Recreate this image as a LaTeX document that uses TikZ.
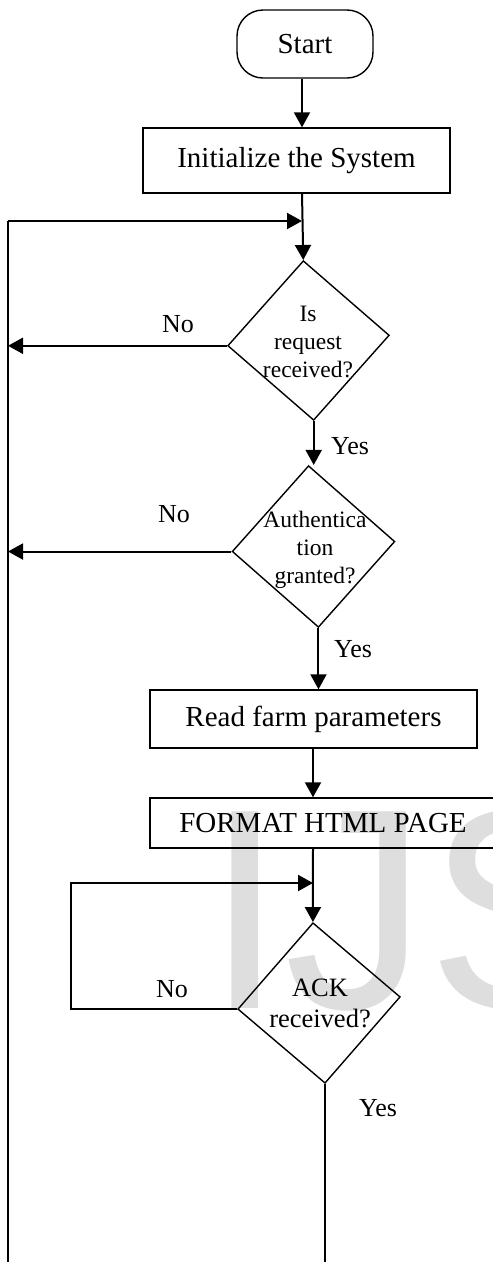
\documentclass[tikz,border=0pt]{standalone}
\usepackage{fontspec}
\setmainfont{Liberation Serif}
\newfontfamily\markfont{Liberation Sans}
\usetikzlibrary{arrows.meta,shapes.geometric}

\tikzset{
  arr/.style={line width=2pt,-{Triangle[length=15pt,width=16pt]}},
  plain/.style={line width=1.8pt},
  procbox/.style={draw,line width=1.4pt,rectangle,inner sep=0pt,
    font=\fontsize{29}{34}\selectfont},
  termbox/.style={draw,line width=1.4pt,rectangle,rounded corners=26pt,
    inner sep=0pt,minimum width=136pt,minimum height=68pt,
    font=\fontsize{29}{34}\selectfont},
  decision/.style={draw,line width=1.4pt,diamond,inner sep=0pt,
    shape aspect=1},
  dtext/.style={align=center,inner sep=0pt,
    font=\fontsize{23.5}{28}\selectfont},
  acktext/.style={align=center,inner sep=0pt,
    font=\fontsize{26.5}{31}\selectfont},
  lbl/.style={inner sep=0pt,anchor=base,font=\fontsize{26}{30}\selectfont},
}

\begin{document}
\begin{tikzpicture}[x=1pt,y=-1pt]
\useasboundingbox (0,0) rectangle (493,1262);
\begin{scope}
\clip (0,0) rectangle (493,1262);

% faint background lettering
\node[inner sep=0pt,anchor=base west,text=black!13,
  font=\markfont\fontsize{286}{286}\selectfont] (mark) at (205,1008) {IJS};

% process steps
\node[termbox] (start) at (305,44) {Start};
\node[procbox,minimum width=307pt,minimum height=65pt] (init) at (296.5,160.5) {Initialize the System};

\node[decision,minimum width=162pt,minimum height=160pt,rotate=3.7] (d1) at (308.5,340.5) {};
\node[dtext] (t1) at (308,342) {Is\\request\\received?};

\node[decision,minimum width=163pt,minimum height=162pt,rotate=3.5] (d2) at (313.5,546.5) {};
\node[dtext] (t2) at (315,549.5) {Authentica\\tion\\granted?};

\node[procbox,minimum width=327pt,minimum height=58pt] (read) at (313.5,719) {Read farm parameters};
\node[procbox,minimum width=346pt,minimum height=50pt] (fmt) at (323,823) {FORMAT HTML PAGE};

\node[decision,minimum width=163pt,minimum height=161pt,rotate=4.3] (ack) at (319,1003) {};
\node[acktext] (t3) at (320,1003) {ACK\\received?};

% branch labels
\node[lbl] (no1) at (178,332) {No};
\node[lbl] (no2) at (174,522) {No};
\node[lbl] (no3) at (172,997) {No};
\node[lbl] (yes1) at (350,454) {Yes};
\node[lbl] (yes2) at (353,657) {Yes};
\node[lbl] (yes3) at (378,1116) {Yes};

% helper points
\coordinate (lt) at (8,221);
\coordinate (lb) at (8,1262);
\coordinate (j1) at (302,221);
\coordinate (c3) at (71,883);
\coordinate (j3) at (313,883);
\coordinate (ackend) at (324,1262);

% main flow
\draw[arr] (start.south -| j1) -- (init.north -| j1);
\draw[arr] (init.south -| j1) -- (d1.north);
\draw[arr] (d1.south) -- (d1.south |- d2.north);
\draw[arr] (d2.south) -- (d2.south |- read.north);
\draw[arr] (read.south -| j3) -- (fmt.north -| j3);
\draw[arr] (fmt.south -| j3) -- (ack.north);
\draw[plain] (ack.south) -- (ack.south |- ackend);

% return paths
\draw[plain] (lb) -- (lt);
\draw[arr] (lt) -- (j1);
\draw[arr] (d1.west) -- (d1.west -| lt);
\draw[arr] (d2.west) -- (d2.west -| lt);
\draw[arr] (ack.west) -| (c3) -- (j3);
\end{scope}
\end{tikzpicture}
\end{document}
